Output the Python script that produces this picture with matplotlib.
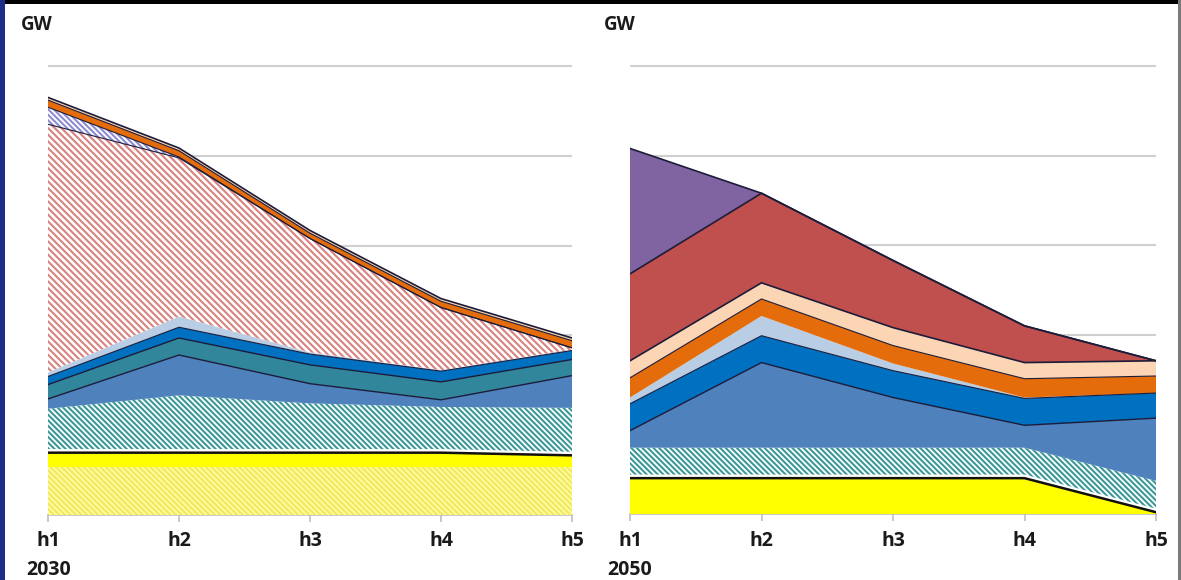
import matplotlib
matplotlib.use("Agg")
import matplotlib.pyplot as plt
from matplotlib.patches import Rectangle
import numpy as np

plt.rcParams['font.family'] = ['Open Sans', 'DejaVu Sans']
plt.rcParams['hatch.linewidth'] = 1.5

# ---------------- data ----------------
hours = ['h1', 'h2', 'h3', 'h4', 'h5']

# 2030 panel (stack order bottom -> top)
pale_yellow_hatched_2030 = [0.53, 0.53, 0.53, 0.53, 0.53]
yellow_2030 = [0.16, 0.16, 0.16, 0.16, 0.13]
gap_2030 = [0.04, 0.04, 0.04, 0.04, 0.04]
teal_hatched_2030 = [0.45, 0.60, 0.51, 0.47, 0.49]
mid_blue_2030 = [0.11, 0.45, 0.22, 0.08, 0.36]
teal_2030 = [0.16, 0.19, 0.21, 0.20, 0.18]
bright_blue_2030 = [0.09, 0.12, 0.12, 0.12, 0.10]
light_blue_2030 = [0.045, 0.12, 0.02, 0.01, 0.01]
red_hatched_2030 = [2.77, 1.77, 1.27, 0.70, 0.02]
purple_hatched_2030 = [0.19, 0.01, 0.0, 0.0, 0.0]
orange_2030 = [0.08, 0.07, 0.06, 0.07, 0.08]
peach_2030 = [0.03, 0.03, 0.03, 0.03, 0.03]

# 2050 panel
yellow_2050 = [0.40, 0.40, 0.40, 0.40, 0.02]
gap_2050 = [0.04, 0.04, 0.04, 0.04, 0.04]
teal_hatched_2050 = [0.30, 0.30, 0.30, 0.30, 0.31]
mid_blue_2050 = [0.19, 0.95, 0.56, 0.25, 0.70]
bright_blue_2050 = [0.30, 0.30, 0.30, 0.30, 0.28]
light_blue_2050 = [0.07, 0.22, 0.08, 0.01, 0.0]
orange_2050 = [0.22, 0.19, 0.20, 0.21, 0.19]
peach_2050 = [0.19, 0.18, 0.20, 0.18, 0.17]
red_2050 = [0.97, 1.00, 0.75, 0.41, 0.0]
purple_2050 = [1.40, 0.0, 0.0, 0.0, 0.0]

gridlines = [1, 2, 3, 4, 5]

# ---------------- styles ----------------
DARK = '#1c1c3a'
H6 = '\\' * 6
H5 = '\\' * 5
st = {
    'pale_yellow_hatched': dict(fc='#fffca0', hc='#f0e860', hatch=H6, line=None),
    'yellow': dict(fc='#ffff00', hc=None, hatch=None, line=('#111111', 1.8)),
    'gap': dict(fc='white', hc=None, hatch=None, line=None),
    'teal_hatched': dict(fc='white', hc='#3d9898', hatch=H6, line=None),
    'mid_blue': dict(fc='#4f81bd', hc=None, hatch=None, line=(DARK, 1.0)),
    'teal': dict(fc='#31869b', hc=None, hatch=None, line=(DARK, 1.0)),
    'bright_blue': dict(fc='#0070c0', hc=None, hatch=None, line=(DARK, 0.8)),
    'light_blue': dict(fc='#b9cde5', hc=None, hatch=None, line=None),
    'red_hatched': dict(fc='white', hc='#d98280', hatch=H5, line=(DARK, 0.8)),
    'purple_hatched': dict(fc='white', hc='#8c8cd0', hatch=H6, line=(DARK, 0.8)),
    'orange': dict(fc='#e46c0a', hc=None, hatch=None, line=(DARK, 0.8)),
    'peach': dict(fc='#fcd5b5', hc=None, hatch=None, line=(DARK, 1.2)),
    'red': dict(fc='#c0504d', hc=None, hatch=None, line=(DARK, 1.2)),
    'purple': dict(fc='#8064a2', hc=None, hatch=None, line=(DARK, 1.2)),
}

layers_2030 = [
    ('pale_yellow_hatched', pale_yellow_hatched_2030),
    ('yellow', yellow_2030),
    ('gap', gap_2030),
    ('teal_hatched', teal_hatched_2030),
    ('mid_blue', mid_blue_2030),
    ('teal', teal_2030),
    ('bright_blue', bright_blue_2030),
    ('light_blue', light_blue_2030),
    ('red_hatched', red_hatched_2030),
    ('purple_hatched', purple_hatched_2030),
    ('orange', orange_2030),
    ('peach', peach_2030),
]
layers_2050 = [
    ('yellow', yellow_2050),
    ('gap', gap_2050),
    ('teal_hatched', teal_hatched_2050),
    ('mid_blue', mid_blue_2050),
    ('bright_blue', bright_blue_2050),
    ('light_blue', light_blue_2050),
    ('orange', orange_2050),
    ('peach', peach_2050),
    ('red', red_2050),
    ('purple', purple_2050),
]

W, H = 1181, 580
fig = plt.figure(figsize=(W / 100, H / 100), dpi=100)
fig.patch.set_facecolor('white')

UNIT = 89.6
YMAX = 5.3


def panel(x0, x1, base, layers):
    ax = fig.add_axes([x0 / W, (H - base) / H, (x1 - x0) / W, YMAX * UNIT / H])
    x = np.arange(len(hours))
    ax.set_xlim(0, len(hours) - 1)
    ax.set_ylim(0, YMAX)
    for g in gridlines:
        ax.axhline(g, color='#d0d0d0', lw=1.5, zorder=0)
    bottom = np.zeros(len(hours))
    lines = []
    for z, (name, vals) in enumerate(layers):
        s = st[name]
        top = bottom + np.array(vals, dtype=float)
        if s['hatch']:
            ax.fill_between(x, bottom, top, facecolor=s['fc'], edgecolor=s['hc'],
                            hatch=s['hatch'], linewidth=0, zorder=2 + z * 0.01)
        else:
            ax.fill_between(x, bottom, top, facecolor=s['fc'], linewidth=0,
                            zorder=2 + z * 0.01)
        if s['line']:
            lines.append((top.copy(), s['line']))
        bottom = top
    for top, (c, lw) in lines:
        ax.plot(x, top, color=c, lw=lw, zorder=3, solid_joinstyle='round')
    for sp in ['top', 'right', 'left']:
        ax.spines[sp].set_visible(False)
    ax.spines['bottom'].set_color('#bfbfbf')
    ax.spines['bottom'].set_linewidth(1.2)
    ax.spines['bottom'].set_zorder(1)
    ax.set_yticks([])
    ax.set_xticks(x)
    ax.set_xticklabels(hours, fontsize=14, fontweight='bold', color='#1a1a1a')
    ax.tick_params(axis='x', length=5, color='#bfbfbf', width=1.2, pad=7)
    ax.set_facecolor('none')
    return ax


ax1 = panel(48, 572, 514.5, layers_2030)
ax2 = panel(630, 1156, 514.0, layers_2050)

fig.text(37 / W, 1 - 25 / H, 'GW', ha='center', va='center', fontsize=13.5,
         fontweight='bold', color='#1a1a1a')
fig.text(620 / W, 1 - 25 / H, 'GW', ha='center', va='center', fontsize=13.5,
         fontweight='bold', color='#1a1a1a')
fig.text(48.5 / W, 1 - 570 / H, '2030', ha='center', va='center', fontsize=14,
         fontweight='bold', color='#1a1a1a')
fig.text(630 / W, 1 - 570 / H, '2050', ha='center', va='center', fontsize=14,
         fontweight='bold', color='#1a1a1a')

# frame borders
fig.patches.append(Rectangle((0, 1 - 4 / H), 1, 4 / H, transform=fig.transFigure,
                             facecolor='black', edgecolor='none', zorder=10))
fig.patches.append(Rectangle((0, 0), 5 / W, 1, transform=fig.transFigure,
                             facecolor='#1f2d86', edgecolor='none', zorder=10))
fig.patches.append(Rectangle((1 - 3 / W, 0), 3 / W, 1, transform=fig.transFigure,
                             facecolor='#7a7a7a', edgecolor='none', zorder=10))

fig.savefig('out.png', dpi=100)
